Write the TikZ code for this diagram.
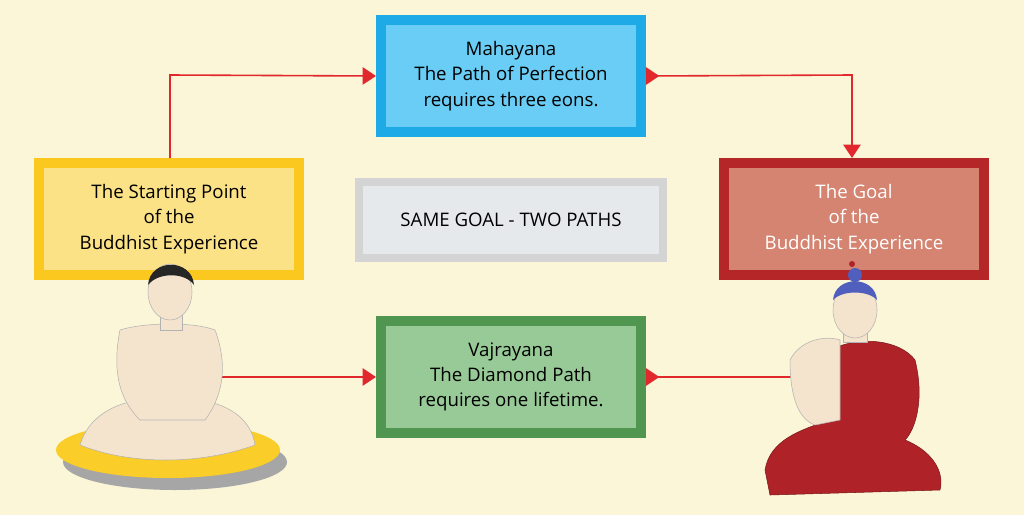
\documentclass[tikz,border=0pt]{standalone}
\usepackage{fontspec}
\setmainfont{Open Sans}
\usetikzlibrary{arrows.meta}
\definecolor{bg}{RGB}{250,246,215}
\definecolor{arr}{RGB}{225,40,45}
\definecolor{skin}{RGB}{245,228,205}
\definecolor{robe}{RGB}{175,35,40}
\definecolor{bluB}{RGB}{30,170,230}\definecolor{bluF}{RGB}{105,205,245}
\definecolor{yelB}{RGB}{250,200,30}\definecolor{yelF}{RGB}{252,226,135}
\definecolor{grB}{RGB}{212,212,212}\definecolor{grF}{RGB}{230,233,236}
\definecolor{redB}{RGB}{180,38,40}\definecolor{redF}{RGB}{212,132,112}
\definecolor{gnB}{RGB}{80,150,80}\definecolor{gnF}{RGB}{152,202,152}
\definecolor{cush}{RGB}{250,205,40}\definecolor{hairb}{RGB}{80,95,190}
\tikzset{
 box/.style={draw=#1, line width=7.5pt, minimum width=195pt, minimum height=84pt, align=center, font=\fontsize{14}{19}\selectfont, inner sep=0pt},
 conn/.style={draw=arr, line width=1.2pt, -{Triangle[length=10pt,width=13pt]}},
 conn2/.style={draw=arr, line width=1.2pt, {Triangle[reversed,length=10pt,width=13pt]}-{Triangle[length=10pt,width=13pt]}},
 conn3/.style={draw=arr, line width=1.2pt, {Triangle[reversed,length=10pt,width=13pt]}-},
}
\begin{document}
\begin{tikzpicture}[x=0.75pt,y=-0.75pt]
\fill[bg] (0,0) rectangle (1024,515);
\useasboundingbox (0,0) rectangle (1024,515);
% boxes
\node[box=bluB, fill=bluF] (maha) at (511,76) {Mahayana\\The Path of Perfection\\requires three eons.};
\node[box=yelB, fill=yelF] (start) at (169,219) {The Starting Point\\of the\\Buddhist Experience};
\node[box=grB, fill=grF, minimum width=228pt, minimum height=57pt, line width=6pt] (same) at (511,220) {SAME GOAL - TWO PATHS};
\node[box=redB, fill=redF, text=white] (goal) at (854,219) {The Goal\\of the\\Buddhist Experience};
\node[box=gnB, fill=gnF] (vajra) at (511,377) {Vajrayana\\The Diamond Path\\requires one lifetime.};
% connectors
\coordinate (c1) at (170,75);
\coordinate (c2) at (852,75);
\coordinate (s1) at (205,377);
\coordinate (e1) at (795,377);
\draw[conn] (start.north -| c1) -- (c1) -- (maha.west);
\draw[conn2] (maha.east) -- (c2) -- (goal.north -| c2);
\draw[conn] (s1) -- (vajra.west);
\draw[conn3] (vajra.east) -- (e1);
% left figure
\fill[gray!70] (175,462) ellipse (112 and 28);
\fill[cush] (168,450) ellipse (112 and 28);
\fill[skin,draw=gray!60] (80,445) .. controls (90,410) and (130,395) .. (168,400) .. controls (210,395) and (250,410) .. (255,445) .. controls (200,465) and (130,465) .. (80,445) -- cycle;
\fill[skin,draw=gray!60] (120,330) .. controls (110,380) and (125,405) .. (140,420) -- (205,420) .. controls (220,400) and (230,370) .. (215,330) .. controls (195,322) and (145,322) .. (120,330) -- cycle;
\fill[skin,draw=gray!60] (160,305) rectangle (182,330);
\fill[skin,draw=gray!60] (170,292) ellipse (22 and 28);
\fill[black!85] (148,285) .. controls (150,258) and (192,258) .. (194,285) .. controls (185,272) and (158,272) .. (148,285) -- cycle;
% right figure
\fill[robe,draw=robe!70!black] (765,470) .. controls (770,440) and (800,430) .. (830,420) -- (830,350) .. controls (860,335) and (900,340) .. (915,360) .. controls (925,400) and (915,430) .. (905,440) .. controls (930,450) and (945,470) .. (940,490) -- (770,495) -- cycle;
\fill[skin,draw=gray!60] (790,360) .. controls (800,340) and (825,335) .. (840,340) -- (840,420) -- (815,425) .. controls (800,420) and (790,400) .. (790,360) -- cycle;
\fill[skin,draw=gray!60] (843,318) rectangle (867,342);
\fill[skin,draw=gray!60] (855,310) ellipse (22 and 28);
\fill[hairb] (833,300) .. controls (835,275) and (875,275) .. (877,300) .. controls (868,290) and (842,290) .. (833,300) -- cycle;
\fill[hairb] (855,275) circle (7);
\fill[robe] (852,264) circle (3);
\end{tikzpicture}
\end{document}
